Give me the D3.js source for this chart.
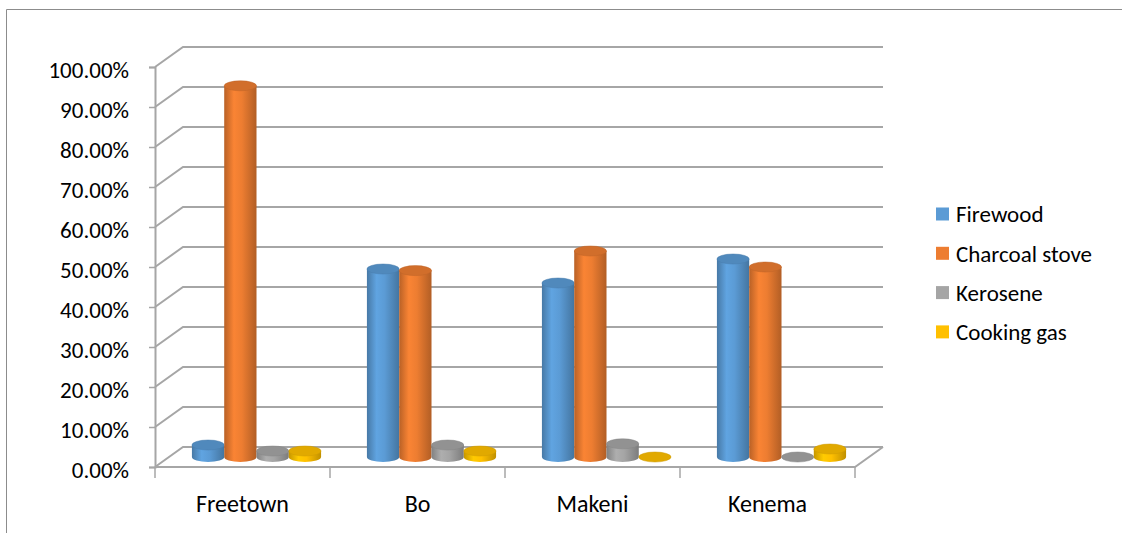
<!DOCTYPE html>
<html>
<head>
<meta charset="utf-8">
<script src="https://cdn.jsdelivr.net/npm/d3@7"></script>
<style>
  body { margin: 0; background: #fff; }
  svg { display: block; font-family: Carlito, Lato, "Open Sans", sans-serif; }
</style>
</head>
<body>
<div id="chart"></div>
<script>
const cities = ["Freetown", "Bo", "Makeni", "Kenema"];
const series = ["Firewood", "Charcoal stove", "Kerosene", "Cooking gas"];
const firewood = [0.03, 0.47, 0.435, 0.495];
const charcoal = [0.928, 0.466, 0.515, 0.475];
const kerosene = [0.015, 0.03, 0.033, 0];
const cookingGas = [0.015, 0.015, 0, 0.02];
const yTicks = [0, 0.1, 0.2, 0.3, 0.4, 0.5, 0.6, 0.7, 0.8, 0.9, 1.0];

const colors = ["#5b9bd5", "#ed7d31", "#a5a5a5", "#ffc000"];
const values = [firewood, charcoal, kerosene, cookingGas];

const W = 1122, H = 533;
const depthX = 28, depthY = -20;
const fontFam = "Carlito, Lato, 'Open Sans', sans-serif";

const svg = d3.select("#chart").append("svg")
    .attr("width", W)
    .attr("height", H);

// outer frame (cut off on right and bottom)
svg.append("path")
    .attr("d", "M6.5,533 V9.5 H1122")
    .attr("fill", "none")
    .attr("stroke", "#8c8c8c")
    .attr("stroke-width", 1);

const x = d3.scaleBand()
    .domain(cities)
    .range([155, 855])
    .padding(0);

const xs = d3.scaleBand()
    .domain(series)
    .range([0, x.bandwidth()])
    .paddingInner(0)
    .paddingOuter(0.71);

const y = d3.scaleLinear()
    .domain([0, 1])
    .range([467, 67]);

const defs = svg.append("defs");
colors.forEach((c, i) => {
    const g = defs.append("linearGradient")
        .attr("id", "cyl" + i)
        .attr("x1", "0%").attr("x2", "100%")
        .attr("y1", "0%").attr("y2", "0%");
    const base = d3.color(c);
    g.append("stop").attr("offset", "0%").attr("stop-color", base.darker(0.7));
    g.append("stop").attr("offset", "30%").attr("stop-color", base.brighter(0.15));
    g.append("stop").attr("offset", "55%").attr("stop-color", base);
    g.append("stop").attr("offset", "100%").attr("stop-color", base.darker(0.8));
});

const grid = svg.append("g")
    .attr("stroke", "#a6a6a6")
    .attr("stroke-width", 2)
    .attr("fill", "none");

// back wall gridlines + side wall diagonals
yTicks.forEach(t => {
    const yy = y(t);
    grid.append("path")
        .attr("d", `M155,${yy} L${155 + depthX},${yy + depthY} L${855 + depthX},${yy + depthY}`);
});

// floor front edge and right diagonal
grid.append("path")
    .attr("d", `M155,${y(0)} H855 L${855 + depthX},${y(0) + depthY}`);

// front vertical axis
const yAxis = svg.append("g")
    .attr("transform", "translate(155,0)")
    .call(d3.axisLeft(y).tickValues(yTicks).tickFormat(d3.format(".2%")).tickSize(6).tickPadding(20));
yAxis.select(".domain").attr("stroke", "#a6a6a6").attr("stroke-width", 2);
yAxis.selectAll(".tick line").attr("stroke", "#a6a6a6").attr("stroke-width", 1.5);
yAxis.selectAll(".tick text")
    .style("font-size", "23px")
    .style("font-family", fontFam)
    .attr("fill", "#000")
    .attr("dy", "0.45em");

// category axis
const xAxis = svg.append("g")
    .attr("transform", `translate(0,${y(0)})`)
    .call(d3.axisBottom(x).tickSize(0).tickPadding(28));
xAxis.select(".domain").remove();
x.domain().concat(["end"]).forEach((c, i) => {
    const xx = 155 + i * x.bandwidth();
    xAxis.append("line")
        .attr("x1", xx).attr("x2", xx)
        .attr("y1", 0).attr("y2", 11)
        .attr("stroke", "#a6a6a6").attr("stroke-width", 1.5);
});
xAxis.selectAll(".tick text")
    .style("font-size", "24px")
    .style("font-family", fontFam)
    .attr("fill", "#000");

// cylinders
const ry = 5;
const bars = svg.append("g").attr("transform", `translate(${depthX / 2},${depthY / 2})`);
cities.forEach((city, ci) => {
    series.forEach((s, si) => {
        const v = values[si][ci];
        const cx = x(city) + xs(s) + xs.bandwidth() / 2;
        const rx = xs.bandwidth() / 2;
        const yb = y(0);
        const yt = y(v);
        const base = d3.color(colors[si]);
        const g = bars.append("g");
        if (yb - yt > 0.5) {
            g.append("path")
                .attr("d", `M${cx - rx},${yt} L${cx - rx},${yb} A${rx},${ry} 0 0 0 ${cx + rx},${yb} L${cx + rx},${yt} Z`)
                .attr("fill", `url(#cyl${si})`);
        }
        g.append("ellipse")
            .attr("cx", cx).attr("cy", yt)
            .attr("rx", rx).attr("ry", ry)
            .attr("fill", base.darker(0.35))
            .attr("stroke", base.darker(0.6))
            .attr("stroke-width", 0.5);
    });
});

// legend
const legend = svg.append("g").attr("transform", "translate(936,214)");
series.forEach((s, i) => {
    const row = legend.append("g").attr("transform", `translate(0,${i * 39.3})`);
    row.append("rect")
        .attr("x", 0).attr("y", -6.5)
        .attr("width", 13).attr("height", 13)
        .attr("fill", colors[i]);
    row.append("text")
        .attr("x", 20).attr("y", 0)
        .attr("dy", "0.36em")
        .style("font-size", "23px")
        .style("font-family", fontFam)
        .attr("fill", "#000")
        .text(s);
});
</script>
</body>
</html>
